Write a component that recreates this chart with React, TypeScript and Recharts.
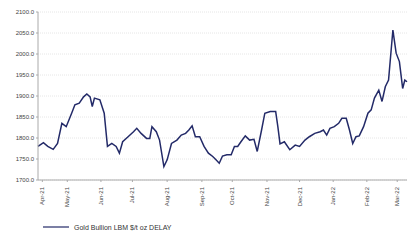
import { CartesianGrid, Legend, Line, LineChart, XAxis, YAxis } from "recharts";

// days counted from 15-Apr-21
const days = [
  0, 5, 9, 14, 18, 22, 26, 31, 34, 38, 42, 45, 48, 50, 52, 57, 61, 64, 68, 72,
  75, 78, 83, 88, 91, 95, 100, 103, 105, 109, 112, 116, 119, 123, 128, 132, 136,
  139, 142, 145, 149, 153, 157, 161, 164, 167, 170, 174, 178, 181, 184, 187, 191,
  195, 199, 202, 206, 209, 214, 219, 221, 223, 227, 232, 237, 241, 246, 250, 255,
  260, 263, 266, 269, 273, 277, 280, 284, 287, 290, 293, 296, 300, 304, 307, 310,
  314, 317, 320, 323, 327, 330, 333, 336, 338, 340,
];

const gold = [
  1780, 1789, 1780, 1773, 1787, 1835, 1827, 1859, 1879, 1883, 1898, 1905, 1898,
  1875, 1895, 1891, 1859, 1780, 1787, 1780, 1764, 1791, 1803, 1815, 1823, 1811,
  1799, 1799, 1827, 1815, 1795, 1732, 1748, 1787, 1795, 1807, 1811, 1819, 1829,
  1803, 1803, 1780, 1764, 1756, 1748, 1740, 1757, 1760, 1760, 1780, 1780, 1791,
  1805, 1795, 1797, 1768, 1819, 1859, 1863, 1863, 1827, 1786, 1791, 1772, 1783,
  1780, 1795, 1803, 1811, 1815, 1819, 1807, 1823, 1827, 1835, 1847, 1847, 1819,
  1787, 1803, 1805, 1827, 1859, 1867, 1895, 1914, 1887, 1922, 1938, 2057, 2002,
  1982, 1918, 1938, 1934,
];

const tickDays = [4, 27, 58, 87, 119, 151, 179, 211, 241, 272, 303, 331];
const tickLabels = [
  "Apr-21", "May-21", "Jun-21", "Jul-21", "Aug-21", "Sep-21",
  "Oct-21", "Nov-21", "Dec-21", "Jan-22", "Feb-22", "Mar-22",
];
const yTicks = [1700, 1750, 1800, 1850, 1900, 1950, 2000, 2050, 2100];

const data = days.map((d, i) => ({ day: d, gold: gold[i] }));

const XTick = ({ x, y, payload }: any) => {
  const idx = tickDays.indexOf(payload.value);
  return (
    <g transform={`translate(${x},${y + 3})`}>
      <text transform="rotate(-90)" textAnchor="end" dy={2} fontSize={6} fill="#444">
        {tickLabels[idx]}
      </text>
    </g>
  );
};

const LegendBox = () => (
  <div style={{ display: "flex", alignItems: "center", paddingLeft: 35, height: 30 }}>
    <svg width={28} height={6}>
      <line x1={0} y1={3} x2={26} y2={3} stroke="#232a68" strokeWidth={1.2} />
    </svg>
    <span style={{ fontSize: 7, color: "#333", marginLeft: 3 }}>
      Gold Bullion LBM $/t oz DELAY
    </span>
  </div>
);

export default function App() {
  return (
    <div style={{ position: "absolute", left: 0, top: 0, fontFamily: "Liberation Sans, Arial, sans-serif", background: "#fff" }}>
      <LineChart width={409} height={242} data={data} margin={{ top: 12, right: 2, left: 8, bottom: 0 }}>
        <CartesianGrid vertical={false} stroke="#e6e6e6" strokeDasharray="1 1" />
        <XAxis
          dataKey="day"
          type="number"
          domain={[0, 340]}
          ticks={tickDays}
          tick={<XTick />}
          height={32}
          stroke="#aaa"
          tickSize={2}
          interval={0}
        />
        <YAxis
          domain={[1700, 2100]}
          ticks={yTicks}
          tickFormatter={(v: number) => v.toFixed(1)}
          width={30}
          stroke="#aaa"
          tickSize={2}
          tick={{ fontSize: 6, fill: "#444" }}
          interval={0}
        />
        <Legend verticalAlign="bottom" height={30} content={<LegendBox />} />
        <Line
          type="linear"
          dataKey="gold"
          stroke="#232a68"
          strokeWidth={1.5}
          dot={false}
          isAnimationActive={false}
        />
      </LineChart>
    </div>
  );
}
